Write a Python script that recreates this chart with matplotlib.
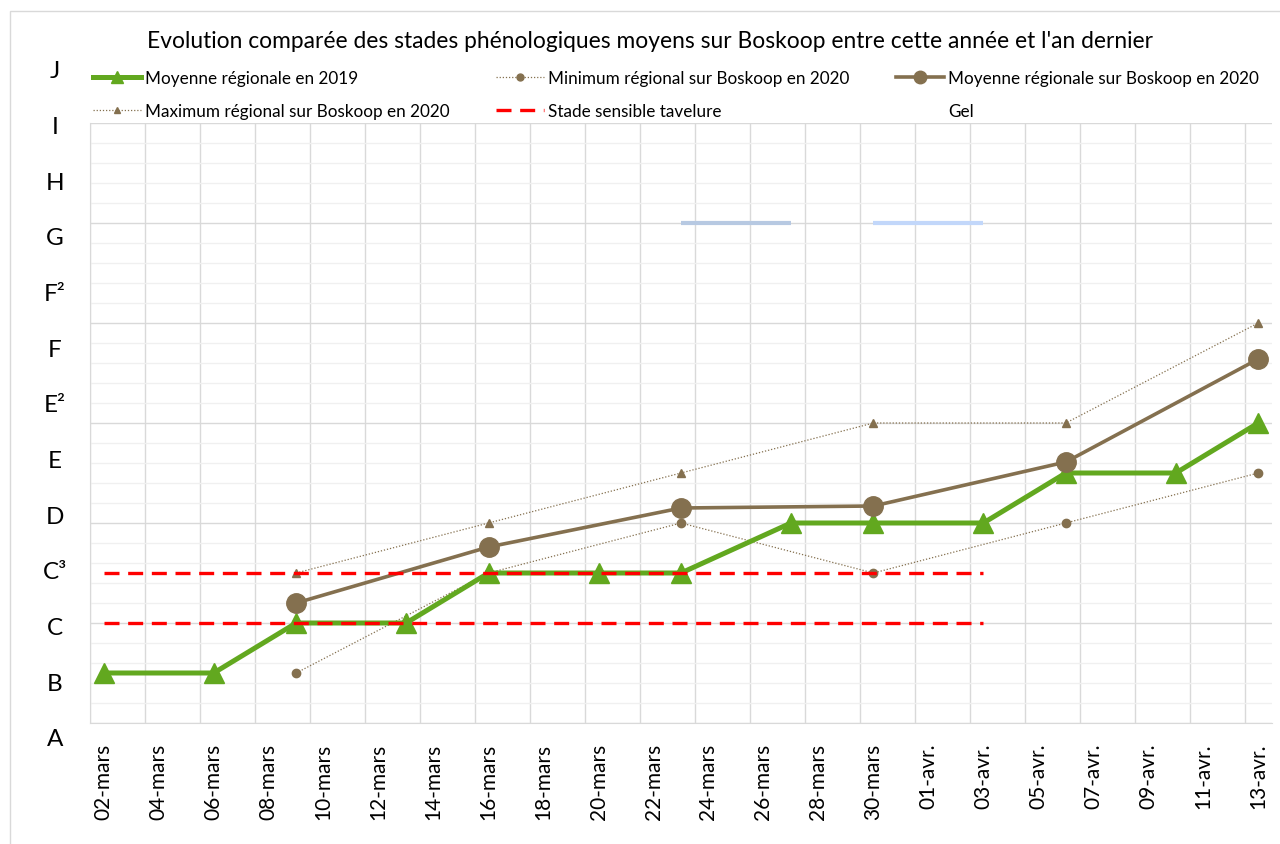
import numpy as np
import matplotlib.pyplot as plt
from matplotlib.lines import Line2D
from matplotlib.patches import Rectangle

plt.rcParams['font.family'] = ['Lato', 'DejaVu Sans']

# x = days since 02-mars
tick_labels = ["02-mars", "04-mars", "06-mars", "08-mars", "10-mars", "12-mars", "14-mars",
               "16-mars", "18-mars", "20-mars", "22-mars", "24-mars", "26-mars", "28-mars",
               "30-mars", "01-avr.", "03-avr.", "05-avr.", "07-avr.", "09-avr.", "11-avr.",
               "13-avr."]
stage_labels = ["A", "B", "C", "C³", "D", "E", "E²", "F", "F²", "G", "H", "I", "J"]

days_2019 = [0, 4, 7, 11, 14, 18, 21, 25, 28, 32, 35, 39, 42]
moy_2019 = [0.5, 0.5, 1.0, 1.0, 1.5, 1.5, 1.5, 2.0, 2.0, 2.0, 2.5, 2.5, 3.0]

days_2020 = [7, 14, 21, 28, 35, 42]
moy_2020 = [1.2, 1.76, 2.15, 2.17, 2.61, 3.64]
min_2020 = [0.5, 1.5, 2.0, 1.5, 2.0, 2.5]
max_2020 = [1.5, 2.0, 2.5, 3.0, 3.0, 4.0]

tavelure_days = [0, 32]
tavelure_levels = [1.0, 1.5]

gel_periods = [(21, 25), (28, 32)]
gel_level = 5.0

green = "#62a81f"
brown = "#84704f"

fig = plt.figure(figsize=(12.8, 8.45), dpi=100)
ax = fig.add_axes([90 / 1280, 1 - 724 / 845, 1182 / 1280, 600 / 845])

# chart frame
fig.patches.append(Rectangle((10 / 1280, -0.05), 1.1, 1.05 - 12 / 845, transform=fig.transFigure,
                             fill=False, edgecolor="#d9d9d9", linewidth=1, zorder=0))

# plot data
for (d0, d1), c in zip(gel_periods, ["#b7c9e2", "#c2d7fa"]):
    ax.plot([d0, d1], [gel_level, gel_level], color=c, lw=3, solid_capstyle="butt", zorder=3)

l_max, = ax.plot(days_2020, max_2020, color=brown, lw=0.9, ls=(0, (1, 1.5)), marker="^",
                 markersize=6, label="Maximum régional sur Boskoop en 2020", zorder=4)
l_min, = ax.plot(days_2020, min_2020, color=brown, lw=0.9, ls=(0, (1, 1.5)), marker="o",
                 markersize=6, label="Minimum régional sur Boskoop en 2020", zorder=4)
l_2019, = ax.plot(days_2019, moy_2019, color=green, lw=3.6, marker="^", markersize=15,
                  label="Moyenne régionale en 2019", zorder=5)
l_2020, = ax.plot(days_2020, moy_2020, color=brown, lw=2.6, marker="o", markersize=14,
                  label="Moyenne régionale sur Boskoop en 2020", zorder=6)
for lev in tavelure_levels:
    l_tav, = ax.plot(tavelure_days, [lev, lev], color="#ff0000", lw=2.4, dashes=(4.5, 2.6),
                     label="Stade sensible tavelure", zorder=7)
l_gel = Line2D([], [], color="none", label="Gel")

ax.set_xlim(-0.5, 42.5)
ax.set_ylim(0, 6)
ax.set_xticks(np.arange(0, 43, 2), tick_labels, rotation=90, fontsize=15)
ax.set_xticks(np.arange(-0.5, 43, 2), minor=True)
ax.set_yticks(np.arange(0, 6.1, 1))
ax.set_yticks(np.arange(0, 6.01, 0.2), minor=True)
ax.set_yticklabels([])
ax.tick_params(which="both", length=0)
ax.tick_params(axis="x", pad=14)
ax.grid(axis="x", which="minor", color="#d9d9d9", lw=1)
ax.grid(axis="y", which="major", color="#d9d9d9", lw=1)
ax.grid(axis="y", which="minor", color="#f0f0f0", lw=1)
ax.set_axisbelow(True)
for side in ["top", "right"]:
    ax.spines[side].set_visible(False)
for side in ["left", "bottom"]:
    ax.spines[side].set_color("#d9d9d9")

# stage letters on the left
stage_pos = -0.16 + 0.5567 * np.arange(len(stage_labels))
for lab, yp in zip(stage_labels, stage_pos):
    ax.text(-0.0296, yp, lab, transform=ax.get_yaxis_transform(), ha="center", va="center",
            fontsize=17.5, clip_on=False)

handles = [l_2019, l_max, l_min, l_tav, l_2020, l_gel]
leg = ax.legend(handles=handles, ncol=3, loc="lower left", bbox_to_anchor=(-0.003, 0.995),
                frameon=False, fontsize=12.3, handlelength=2.8, handletextpad=0.25,
                columnspacing=2.7, labelspacing=1.0, borderaxespad=0)
for h, ms in zip(leg.legend_handles, [9, 5, 5, 0, 9, 0]):
    h.set_markersize(ms)

fig.text(0.508, 1 - 42 / 845, "Evolution comparée des stades phénologiques moyens sur Boskoop entre cette année et l'an dernier",
         ha="center", va="center", fontsize=16.4)

plt.savefig("out.png", dpi=100)
